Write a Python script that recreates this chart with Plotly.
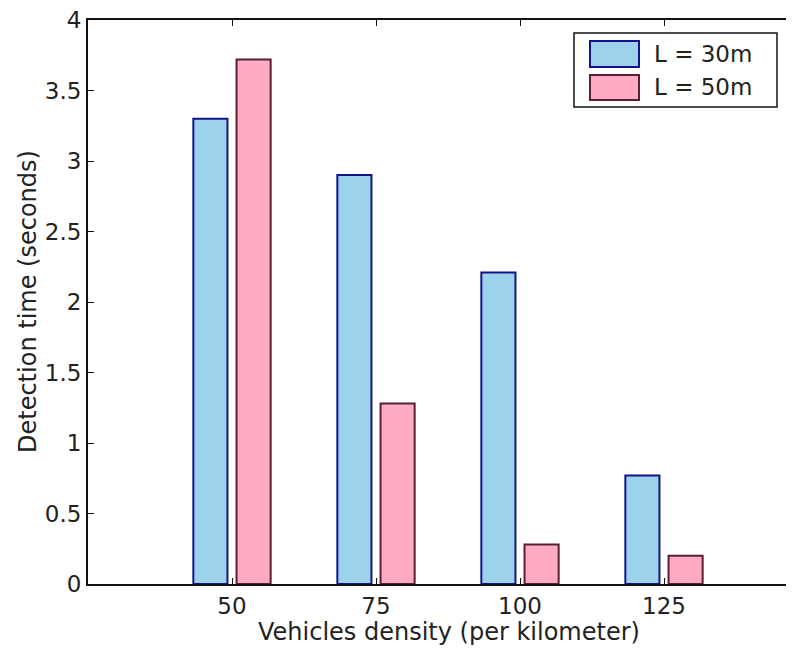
import plotly.graph_objects as go

densities = [50, 75, 100, 125]
tick_labels = ["50", "75", "100", "125"]
series_names = ["L = 30m", "L = 50m"]
values_30m = [3.30, 2.90, 2.21, 0.77]
values_50m = [3.72, 1.28, 0.28, 0.20]

fill_colors = ["#9dd3ea", "#ffaac3"]
edge_colors = ["#12128c", "#5a1f33"]

W, H = 794, 653
OFF = 8  # default page body margin
L, T, B, R = 88 - OFF, 20 - OFF, H - (584 - OFF), 0
pw, ph = W - L - R, H - T - B

fig = go.Figure()
for name, vals, fc, ec in zip(series_names, [values_30m, values_50m], fill_colors, edge_colors):
    fig.add_trace(go.Bar(x=densities, y=vals, name=name,
                         marker=dict(color=fc, line=dict(color=ec, width=2)),
                         showlegend=False))

def px_x(p):
    return (p - OFF - L) / pw

def px_y(p):
    return (H - B - (p - OFF)) / ph

font_family = "DejaVu Sans, Liberation Sans, Arial, sans-serif"
shapes = [dict(type="rect", xref="paper", yref="paper",
               x0=px_x(574), x1=px_x(777), y0=px_y(107), y1=px_y(33),
               line=dict(color="#111111", width=1.5), fillcolor="white", layer="above")]
annotations = []
sw_rows = [(41, 67), (75, 100)]
for (y0, y1), name, fc, ec in zip(sw_rows, series_names, fill_colors, edge_colors):
    shapes.append(dict(type="rect", xref="paper", yref="paper",
                       x0=px_x(590), x1=px_x(639), y0=px_y(y1), y1=px_y(y0),
                       line=dict(color=ec, width=2), fillcolor=fc, layer="above"))
    annotations.append(dict(xref="paper", yref="paper", x=px_x(652), y=px_y((y0 + y1) / 2),
                            text=name, showarrow=False, xanchor="left", yanchor="middle",
                            font=dict(size=23, color="#222222", family=font_family)))

annotations.append(dict(xref="paper", yref="paper", x=px_x(449), y=px_y(632),
                        text="Vehicles density (per kilometer)", showarrow=False,
                        xanchor="center", yanchor="middle",
                        font=dict(size=24, color="#222222", family=font_family)))
annotations.append(dict(xref="paper", yref="paper", x=px_x(28), y=px_y(302),
                        text="Detection time (seconds)", showarrow=False, textangle=-90,
                        xanchor="center", yanchor="middle",
                        font=dict(size=24, color="#222222", family=font_family)))

fig.update_layout(
    width=W, height=H,
    margin=dict(l=L, r=R, t=T, b=B, autoexpand=False),
    paper_bgcolor="white", plot_bgcolor="white",
    barmode="group", bargap=0.40, bargroupgap=0.21,
    font=dict(family=font_family, size=23, color="#222222"),
    shapes=shapes, annotations=annotations,
    xaxis=dict(range=[25, 25 + 25 * pw / 144], tickvals=densities, ticktext=tick_labels,
               showline=True, linecolor="#111111", linewidth=2, mirror="ticks",
               ticks="inside", ticklen=6, tickcolor="#111111", showgrid=False, zeroline=False,
               tickfont=dict(size=23), automargin=False, ticklabeloverflow="allow"),
    yaxis=dict(range=[0, 4], dtick=0.5, showline=True, linecolor="#111111", linewidth=2,
               ticks="inside", ticklen=6, tickcolor="#111111", showgrid=False, zeroline=False,
               tickfont=dict(size=23), automargin=False, ticklabeloverflow="allow"),
)

fig.write_html("out.html")
